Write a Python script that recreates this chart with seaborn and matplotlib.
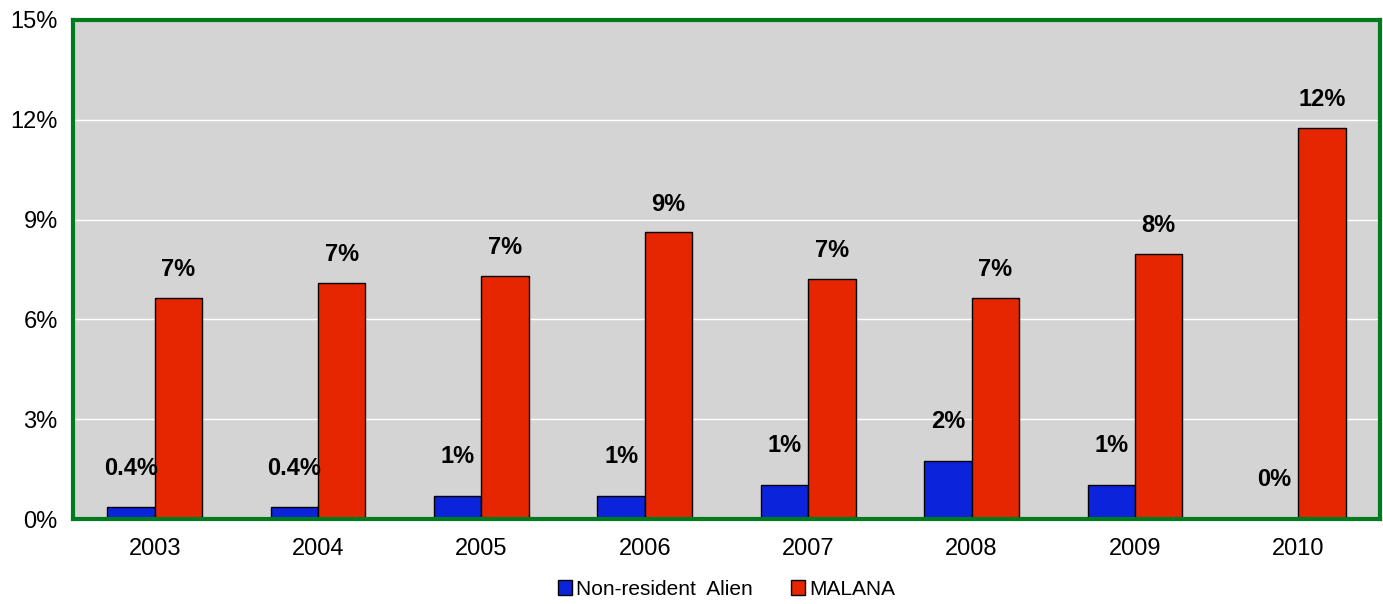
import numpy as np
import pandas as pd
import matplotlib
matplotlib.use("Agg")
import matplotlib.pyplot as plt
import seaborn as sns

years = ["2003", "2004", "2005", "2006", "2007", "2008", "2009", "2010"]
nonres = [0.35, 0.35, 0.70, 0.70, 1.03, 1.75, 1.03, 0.0]
malana = [6.65, 7.10, 7.30, 8.62, 7.22, 6.64, 7.98, 11.75]
nonres_labels = ["0.4%", "0.4%", "1%", "1%", "1%", "2%", "1%", "0%"]
malana_labels = ["7%", "7%", "7%", "9%", "7%", "7%", "8%", "12%"]
series = ["Non-resident  Alien", "MALANA"]

df = pd.DataFrame({
    "year": years * 2,
    "value": nonres + malana,
    "series": [series[0]] * len(years) + [series[1]] * len(years),
})

sns.set_style("white")
plt.rcParams["font.family"] = ["Liberation Sans Narrow", "Liberation Sans", "DejaVu Sans"]
plt.rcParams["text.color"] = "black"
plt.rcParams["xtick.color"] = "black"
plt.rcParams["ytick.color"] = "black"

fig = plt.figure(figsize=(13.83, 6.04), dpi=100)
ax = fig.add_axes([0.0528, 0.1407, 0.9450, 0.8262])
ax.set_facecolor("#d4d4d4")

sns.barplot(data=df, x="year", y="value", hue="series",
            palette=["#0b24db", "#e52600"], width=0.58, gap=0,
            edgecolor="black", linewidth=1, saturation=1, ax=ax)

ax.set_ylim(0, 15)
ax.set_xlim(-0.5, 7.5)
ax.set_yticks([0, 3, 6, 9, 12, 15])
ax.set_yticklabels([f"{v}%" for v in [0, 3, 6, 9, 12, 15]], fontsize=17)
ax.set_xticks(range(len(years)))
ax.set_xticklabels(years, fontsize=17)
ax.set_xticks(np.arange(-0.5, 8, 1), minor=True)
ax.tick_params(axis="x", which="major", length=0, pad=14)
ax.tick_params(axis="x", which="minor", length=8, width=1, color="black", direction="out")
ax.tick_params(axis="y", length=6, width=1, color="black", direction="out", pad=5)
ax.set_xlabel("")
ax.set_ylabel("")

for y in [3, 6, 9, 12]:
    ax.axhline(y, color="white", lw=1, zorder=0.5)
ax.set_axisbelow(True)

for sp in ax.spines.values():
    sp.set_color("#007a1e")
    sp.set_linewidth(3)

# value labels
for cont, labels, off in zip(ax.containers, [nonres_labels, malana_labels], [20, 12]):
    for bar, lab in zip(cont, labels):
        ax.annotate(lab, (bar.get_x() + bar.get_width() / 2, bar.get_height()),
                    xytext=(0, off), textcoords="offset points",
                    ha="center", va="bottom", fontsize=17, fontweight="bold",
                    color="black")

handles, lbls = ax.get_legend_handles_labels()
ax.legend(handles, lbls, loc="upper center", bbox_to_anchor=(0.5, -0.105),
          ncol=2, frameon=False, fontsize=15, handlelength=0.7, handleheight=0.7,
          handletextpad=0.2, columnspacing=1.8, borderaxespad=0)

fig.savefig("out.png", dpi=100)
